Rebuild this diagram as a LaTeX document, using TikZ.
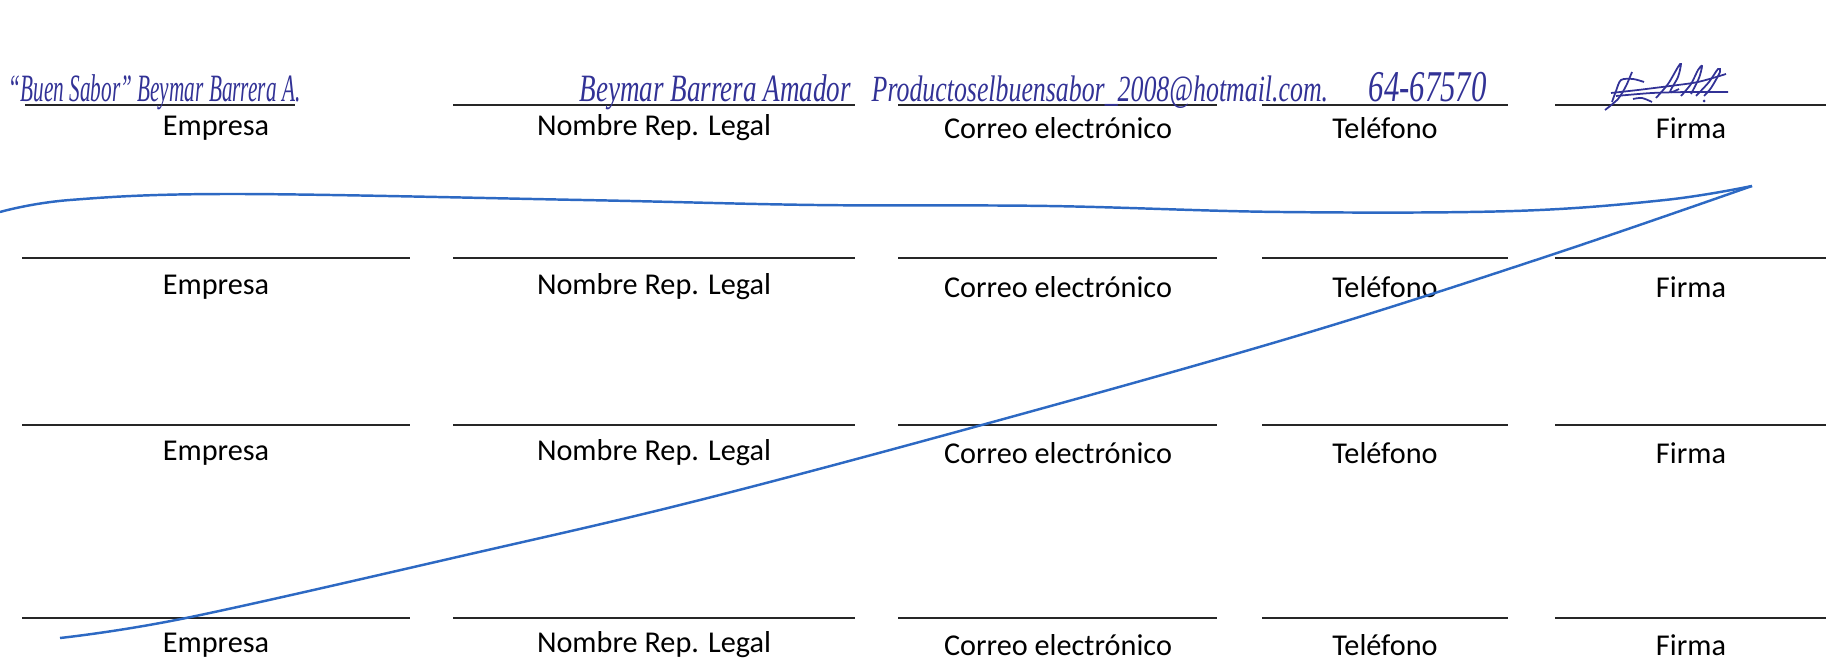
\documentclass[tikz,border=0pt]{standalone}
\usepackage{fontspec}
\setmainfont{Carlito}
\newfontfamily\handfont[FakeStretch=0.7]{Liberation Serif}
\newfontfamily\handnarrow[FakeStretch=0.55]{Liberation Serif}
\definecolor{ink}{RGB}{50,50,150}
\definecolor{pen}{RGB}{45,105,195}
\begin{document}
\begin{tikzpicture}[x=0.01cm,y=-0.01cm]
\tikzstyle{every node}+=[inner sep=0pt]
\tikzstyle{lbl}=[font=\fontsize{8.6}{10}\selectfont]
\tikzstyle{hand}=[text=ink, anchor=base west]
\tikzstyle{rule}=[draw=black!85, line width=0.6pt]
\tikzstyle{sig}=[draw=ink, line width=0.5pt]
\useasboundingbox (0,0) rectangle (1826,658);
\draw [rule] (25,105) -- (295,105);
\draw [rule] (453,105) -- (855,105);
\draw [rule] (898,105) -- (1217,105);
\draw [rule] (1262,105) -- (1508,105);
\draw [rule] (1555,105) -- (1826,105);
\draw [rule] (22,258) -- (410,258);
\draw [rule] (453,258) -- (855,258);
\draw [rule] (898,258) -- (1217,258);
\draw [rule] (1262,258) -- (1508,258);
\draw [rule] (1555,258) -- (1826,258);
\draw [rule] (22,425) -- (410,425);
\draw [rule] (453,425) -- (855,425);
\draw [rule] (898,425) -- (1217,425);
\draw [rule] (1262,425) -- (1508,425);
\draw [rule] (1555,425) -- (1826,425);
\draw [rule] (22,618) -- (410,618);
\draw [rule] (453,618) -- (855,618);
\draw [rule] (898,618) -- (1217,618);
\draw [rule] (1262,618) -- (1508,618);
\draw [rule] (1555,618) -- (1826,618);
\node [lbl] (emp1) at (216,128) {Empresa};
\node [lbl] (rep1) at (654,128) {Nombre Rep. Legal};
\node [lbl] (mail1) at (1058,128) {Correo electrónico};
\node [lbl] (tel1) at (1385,128) {Teléfono};
\node [lbl] (firma1) at (1691,128) {Firma};
\node [lbl] (emp2) at (216,287) {Empresa};
\node [lbl] (rep2) at (654,287) {Nombre Rep. Legal};
\node [lbl] (mail2) at (1058,287) {Correo electrónico};
\node [lbl] (tel2) at (1385,287) {Teléfono};
\node [lbl] (firma2) at (1691,287) {Firma};
\node [lbl] (emp3) at (216,453) {Empresa};
\node [lbl] (rep3) at (654,453) {Nombre Rep. Legal};
\node [lbl] (mail3) at (1058,453) {Correo electrónico};
\node [lbl] (tel3) at (1385,453) {Teléfono};
\node [lbl] (firma3) at (1691,453) {Firma};
\node [lbl] (emp4) at (216,645) {Empresa};
\node [lbl] (rep4) at (654,645) {Nombre Rep. Legal};
\node [lbl] (mail4) at (1058,645) {Correo electrónico};
\node [lbl] (tel4) at (1385,645) {Teléfono};
\node [lbl] (firma4) at (1691,645) {Firma};
\node [hand, font=\handnarrow\itshape\fontsize{11}{13}\selectfont] (empresa) at (8,102) {“Buen Sabor” Beymar Barrera A.};
\node [hand, font=\handfont\itshape\fontsize{11}{13}\selectfont] (replegal) at (579,102) {Beymar Barrera Amador};
\node [hand, font=\handfont\itshape\fontsize{10.5}{12}\selectfont] (correo) at (871,102) {Productoselbuensabor\_2008@hotmail.com.};
\node [hand, font=\handfont\itshape\fontsize{12.5}{14}\selectfont] (telefono) at (1368,102) {64-67570};
\draw [sig] plot [smooth] coordinates {(1605,110) (1618,99) (1626,86) (1632,72)};
\draw [sig] plot [smooth] coordinates {(1612,102) (1616,91) (1621,80) (1633,79) (1644,82)};
\draw [sig] plot [smooth] coordinates {(1611,93) (1638,90) (1670,86) (1698,82) (1726,74)};
\draw [sig] plot [smooth] coordinates {(1616,96) (1652,93) (1689,92) (1728,92)};
\draw [sig] plot [smooth] coordinates {(1656,98) (1668,84) (1678,67) (1681,64) (1678,77) (1670,92) (1679,89)};
\draw [sig] plot [smooth] coordinates {(1681,96) (1691,84) (1698,70) (1702,66) (1699,78) (1691,94)};
\draw [sig] plot [smooth] coordinates {(1696,96) (1709,82) (1718,69) (1720,72) (1711,88) (1704,96)};
\draw [sig] plot [smooth] coordinates {(1633,99) (1642,98) (1652,102)};
\fill [ink] (1704,101) circle (1.5);
\draw [pen, line width=0.7pt] plot [smooth, tension=0.6] coordinates {(0,212) (70,200) (233,194) (582,200) (815,205) (1048,206) (1281,212) (1514,211) (1665,200) (1752,186)};
\draw [pen, line width=0.7pt] plot [smooth, tension=0.6] coordinates {(1752,186) (1545,257) (1300,335) (1000,420) (700,500) (466,555) (186,618) (60,638)};
\end{tikzpicture}
\end{document}
